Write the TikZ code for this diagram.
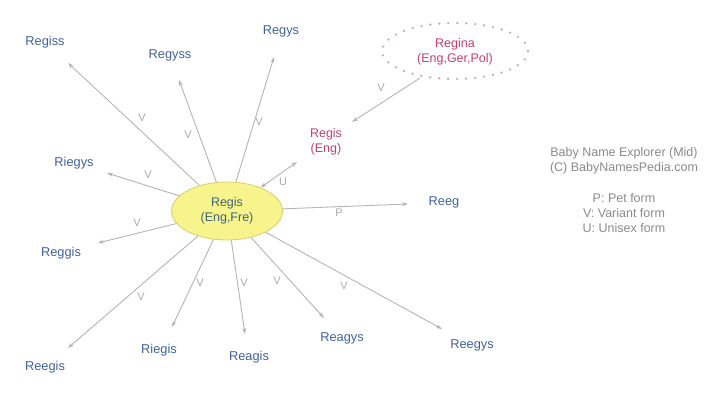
\documentclass[tikz,border=0pt]{standalone}
\usepackage{fontspec}
\setmainfont{Liberation Sans}
\usetikzlibrary{arrows.meta,shapes.geometric}
\definecolor{nameblue}{HTML}{3F62A0}
\definecolor{namepink}{HTML}{C0406E}
\definecolor{edgegray}{HTML}{B4B4B4}
\definecolor{lblgray}{HTML}{A8A8A8}
\definecolor{legendgray}{HTML}{8A8A8A}
\definecolor{centerfill}{HTML}{F7F48C}
\definecolor{centerdraw}{HTML}{D6D070}
\definecolor{centertext}{HTML}{3D6478}
\definecolor{dotcol}{HTML}{C4AEB8}
\begin{document}
\begin{tikzpicture}[x=1pt,y=-1pt,
  bname/.style={text=nameblue,font=\fontsize{12.8}{14}\selectfont,inner sep=0pt},
  pname/.style={text=namepink,font=\fontsize{12.5}{15}\selectfont,align=center,inner sep=0pt},
  rel/.style={draw=edgegray,line width=0.9pt,-{Stealth[length=6pt,width=4pt]}},
  lbl/.style={text=lblgray,font=\fontsize{11}{12}\selectfont,inner sep=0pt},
  legendtext/.style={text=legendgray,font=\fontsize{12.5}{15}\selectfont,align=center,inner sep=0pt}]
\useasboundingbox (0,0) rectangle (720,401);
% center
\node[ellipse,fill=centerfill,draw=centerdraw,line width=0.8pt,minimum width=111pt,minimum height=58pt,
  text=centertext,font=\fontsize{12.5}{15}\selectfont,align=center,inner sep=0pt] (c) at (227,211) {Regis\\(Eng,Fre)};
% outer names
\node[bname] (regiss) at (45,42) {Regiss};
\node[bname] (regyss) at (170,55) {Regyss};
\node[bname] (regys) at (281,31) {Regys};
\node[bname] (riegys) at (74,163) {Riegys};
\node[bname] (reeg) at (444,202) {Reeg};
\node[bname] (reggis) at (61,253) {Reggis};
\node[bname] (reegis) at (45,367) {Reegis};
\node[bname] (riegis) at (159,350) {Riegis};
\node[bname] (reagis) at (249,357) {Reagis};
\node[bname] (reagys) at (342,338) {Reagys};
\node[bname] (reegys) at (472,345) {Reegys};
\node[pname] (regeng) at (326,142) {Regis\\(Eng)};
\node[ellipse,draw=dotcol,line width=2.6pt,line cap=round,dash pattern=on 0pt off 9pt,minimum width=146pt,minimum height=56pt,inner sep=0pt] (reginabox) at (455,51) {};
\node[pname] (regina) at (455,52) {Regina\\(Eng,Ger,Pol)};
% end coordinates
\coordinate (eregiss) at (68,63);
\coordinate (eregyss) at (179,80);
\coordinate (eregys) at (274,57);
\coordinate (eriegys) at (107,173);
\coordinate (ereeg) at (408,204);
\coordinate (ereggis) at (98,243);
\coordinate (ereegis) at (68,348);
\coordinate (eriegis) at (172,327);
\coordinate (ereagis) at (245,334);
\coordinate (ereagys) at (324,318);
\coordinate (ereegys) at (442,329);
\coordinate (eregeng) at (297,162);
\coordinate (eregina) at (420,78);
\coordinate (eregeng2) at (352,122);
% edges
\draw[rel] (c) -- (eregiss);
\draw[rel] (c) -- (eregyss);
\draw[rel] (c) -- (eregys);
\draw[rel] (c) -- (eriegys);
\draw[rel] (c) -- (ereeg);
\draw[rel] (c) -- (ereggis);
\draw[rel] (c) -- (ereegis);
\draw[rel] (c) -- (eriegis);
\draw[rel] (c) -- (ereagis);
\draw[rel] (c) -- (ereagys);
\draw[rel] (c) -- (ereegys);
\draw[rel,{Stealth[length=6pt,width=4pt]}-{Stealth[length=6pt,width=4pt]}] (c) -- (eregeng);
\draw[rel] (eregina) -- (eregeng2);
% labels
\node[lbl] at (142,118) {V};
\node[lbl] at (188,135) {V};
\node[lbl] at (259,122) {V};
\node[lbl] at (148,175) {V};
\node[lbl] at (283,182) {U};
\node[lbl] at (381,88) {V};
\node[lbl] at (339,213) {P};
\node[lbl] at (137,223) {V};
\node[lbl] at (141,297) {V};
\node[lbl] at (200,283) {V};
\node[lbl] at (244,283) {V};
\node[lbl] at (277,281) {V};
\node[lbl] at (344,286) {V};
% legend
\node[legendtext] (title) at (624,161) {Baby Name Explorer (Mid)\\(C) BabyNamesPedia.com};
\node[legendtext] (key) at (624,213) {P: Pet form\\V: Variant form\\U: Unisex form};
\end{tikzpicture}
\end{document}
